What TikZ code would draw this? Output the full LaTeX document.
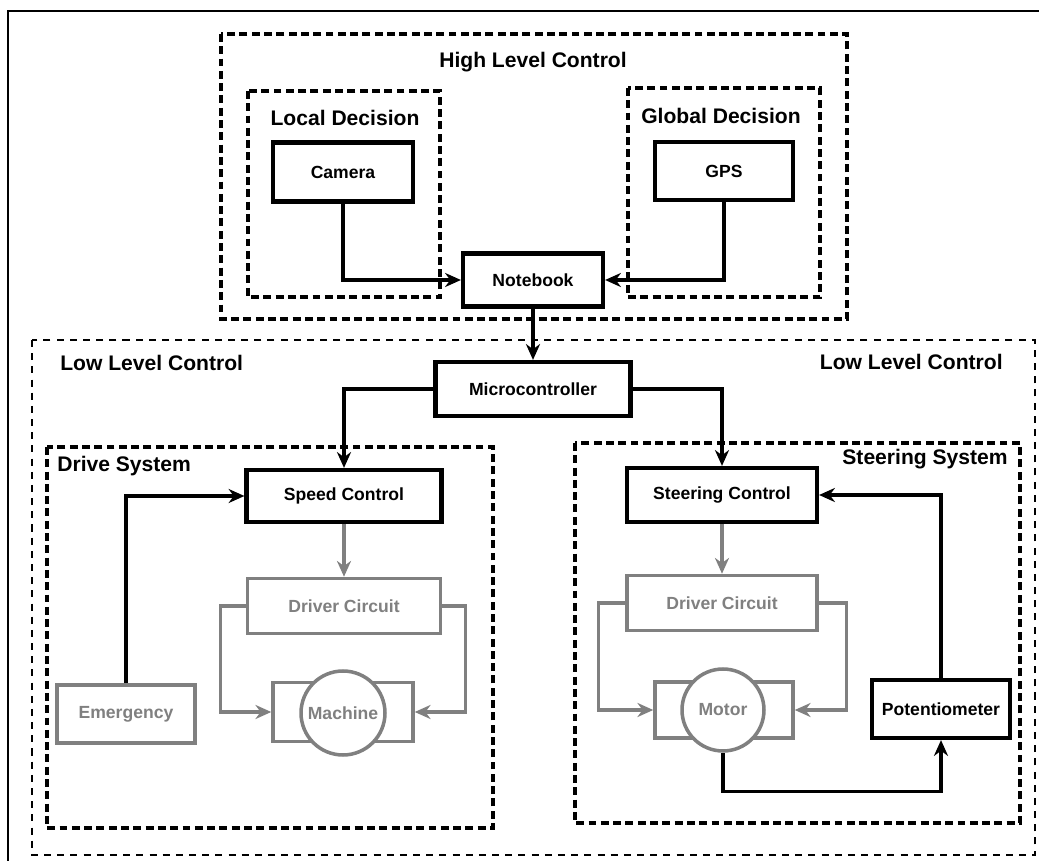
\documentclass[tikz,border=0pt]{standalone}
\usepackage{fontspec}
\setmainfont{Liberation Sans}
\usetikzlibrary{arrows.meta}
\usetikzlibrary{positioning}

\begin{document}
\begin{tikzpicture}
    [x=0.02cm,y=-0.02cm,
    block/.style={rectangle,draw=black,line width=2.4pt,fill=white,
      inner sep=0pt,font=\fontsize{10}{12}\selectfont\bfseries},
    greyblock/.style={block,draw=black!50,text=black!50,line width=2pt},
    motorcircle/.style={circle,draw=black!50,text=black!50,fill=white,line width=2pt,
      inner sep=0pt,font=\fontsize{10}{12}\selectfont\bfseries},
    group/.style={draw=black,line width=2pt,dash pattern=on 4.5pt off 2.5pt},
    lowgroup/.style={draw=black,line width=1.3pt,dash pattern=on 4pt off 3.5pt},
    title/.style={inner sep=0pt,font=\fontsize{12}{14}\selectfont\bfseries},
    link/.style={draw=black,line width=1.8pt,-{Stealth[length=9pt,width=8pt]}},
    greylink/.style={link,draw=black!50}]

    \useasboundingbox (0,0) rectangle (1039,861);
    \draw[line width=1.6pt] (8,861) -- (8,11) -- (1039,11);

    % high level
    \draw[group] (221,34) rectangle (847,319);
    \node (hltitle) at (533,62) [title] {High Level Control};
    \draw[group] (248,91) rectangle (440,297);
    \node (ldtitle) at (345,118) [title] {Local Decision};
    \draw[group] (628,88) rectangle (820,297);
    \node (gdtitle) at (721,116) [title] {Global Decision};

    % low level
    \draw[lowgroup] (32,340) rectangle (1035,855);
    \node (lltitleL) at (60,363) [title,anchor=west] {Low Level Control};
    \node (lltitleR) at (1003,362) [title,anchor=east] {Low Level Control};
    \draw[group] (47,447) rectangle (493,828);
    \node (drivetitle) at (57,466) [title,anchor=west] {Drive System};
    \draw[group] (575,443) rectangle (1020,823);
    \node (steertitle) at (1008,459) [title,anchor=east] {Steering System};

    \node (camera)    at (343,172) [block,minimum width=2.8cm,minimum height=1.18cm] {Camera};
    \node (gps)       at (724,171) [block,minimum width=2.76cm,minimum height=1.16cm] {GPS};
    \node (notebook)  at (533,280) [block,minimum width=2.8cm,minimum height=1.06cm] {Notebook};
    \node (micro)     at (533,389) [block,minimum width=3.9cm,minimum height=1.08cm] {Microcontroller};

    \node (speed)     at (344,496) [block,minimum width=3.9cm,minimum height=1.04cm] {Speed Control};
    \node (driverL)   at (344,606) [greyblock,minimum width=3.86cm,minimum height=1.1cm] {Driver Circuit};
    \node (emergency) at (126,714) [greyblock,minimum width=2.76cm,minimum height=1.16cm] {Emergency};
    \node (machinebox) at (343,712) [greyblock,minimum width=2.8cm,minimum height=1.18cm] {};
    \node (machine)   at (343,713) [motorcircle,minimum size=1.68cm] {Machine};

    \node (steer)     at (722,495) [block,minimum width=3.8cm,minimum height=1.08cm] {Steering Control};
    \node (driverR)   at (722,603) [greyblock,minimum width=3.8cm,minimum height=1.1cm] {Driver Circuit};
    \node (motorbox)  at (724,710) [greyblock,minimum width=2.76cm,minimum height=1.12cm] {};
    \node (motor)     at (723,710) [motorcircle,minimum size=1.64cm] {Motor};
    \node (pot)       at (941,709) [block,minimum width=2.76cm,minimum height=1.16cm] {Potentiometer};

    \draw[link] (camera) |- (notebook);
    \draw[link] (gps) |- (notebook);
    \draw[link] (notebook) -- (micro);
    \draw[link] (micro) -| (speed);
    \draw[link] (micro) -| (steer);

    \draw[greylink] (speed) -- (driverL);
    \draw[link] (emergency) |- (speed);
    \draw[greylink] (driverL.west) -- ++(-25,0) |- (machinebox.west);
    \draw[greylink] (driverL.east) -- ++(23,0) |- (machinebox.east);

    \draw[greylink] (steer) -- (driverR);
    \draw[greylink] (driverR.west) -- ++(-27,0) |- (motorbox.west);
    \draw[greylink] (driverR.east) -- ++(28,0) |- (motorbox.east);
    \draw[link] (pot) |- (steer);
    \draw[link] (motor.south) -- ++(0,39) -| (pot);

  \end{tikzpicture}
\end{document}
